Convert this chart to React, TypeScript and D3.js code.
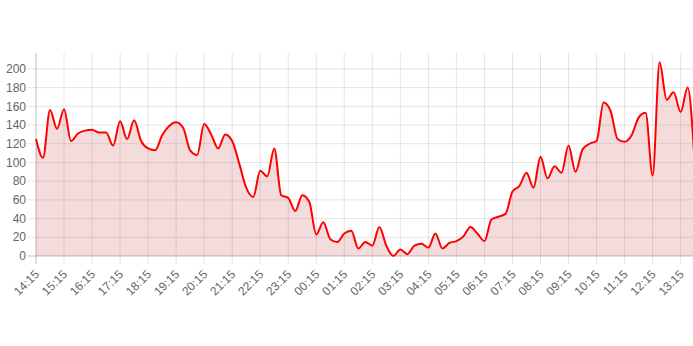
import React from "react";
import * as d3 from "d3";

const startHour = 14;
const startMinute = 15;
const stepMinutes = 15;

const values: number[] = [
  125, 105, 156, 136, 157, 123, 131, 134, 135, 132, 132, 118, 144, 125, 145, 123,
  115, 113, 129, 139, 143, 137, 113, 108, 141, 130, 115, 130, 123, 99, 73, 63,
  91, 85, 115, 65, 62, 48, 65, 58, 23, 36, 18, 15, 24, 27, 8, 15,
  11, 31, 11, 0, 7, 2, 11, 13, 9, 24, 8, 14, 16, 21, 31, 24,
  16, 39, 42, 45, 69, 75, 89, 73, 106, 83, 96, 89, 118, 90, 114, 120,
  123, 164, 155, 125, 122, 129, 148, 153, 86, 207, 167, 175, 154, 180, 100,
];

const yTicks: number[] = [0, 20, 40, 60, 80, 100, 120, 140, 160, 180, 200];

const labels: string[] = values.map((_, i) => {
  const total = startHour * 60 + startMinute + i * stepMinutes;
  const h = Math.floor(total / 60) % 24;
  const m = total % 60;
  return `${String(h).padStart(2, "0")}:${String(m).padStart(2, "0")}`;
});

const W = 693;
const H = 346;
const left = 36;
const bottom = 256;
const top = 53;
const step = 7.007;

export default function App() {
  const x = d3
    .scaleLinear()
    .domain([0, values.length - 1])
    .range([left, left + step * (values.length - 1)]);
  const y = d3.scaleLinear().domain([0, 217]).range([bottom, top]);

  const line = d3
    .line<number>()
    .x((_, i) => x(i))
    .y((d) => y(d))
    .curve(d3.curveMonotoneX);
  const area = d3
    .area<number>()
    .x((_, i) => x(i))
    .y0(y(0))
    .y1((d) => y(d))
    .curve(d3.curveMonotoneX);

  const hourIdx = values.map((_, i) => i).filter((i) => i % 4 === 0);
  const font = "Liberation Sans, Arial, Helvetica, sans-serif";

  return (
    <svg
      width={W}
      height={H}
      style={{ position: "absolute", left: 0, top: 0, background: "#fff" }}
    >
      <rect width={W} height={H} fill="#fff" />
      {yTicks.map((t) => (
        <g key={"y" + t}>
          <line
            x1={left - 8}
            x2={W}
            y1={y(t)}
            y2={y(t)}
            stroke={t === 0 ? "rgba(0,0,0,0.25)" : "rgba(0,0,0,0.1)"}
            strokeWidth={1}
          />
          <text
            x={left - 10}
            y={y(t)}
            dy="0.35em"
            textAnchor="end"
            fontFamily={font}
            fontSize={12}
            fill="#666"
          >
            {t}
          </text>
        </g>
      ))}
      {hourIdx.map((i) => (
        <g key={"x" + i}>
          <line
            x1={x(i)}
            x2={x(i)}
            y1={top}
            y2={bottom + 8}
            stroke={i === 0 ? "rgba(0,0,0,0.25)" : "rgba(0,0,0,0.1)"}
            strokeWidth={1}
          />
          <text
            transform={`translate(${x(i) + 1},${bottom + 16}) rotate(-45)`}
            textAnchor="end"
            dy="0.35em"
            fontFamily={font}
            fontSize={12}
            fill="#666"
          >
            {labels[i]}
          </text>
        </g>
      ))}
      <path d={area(values) || ""} fill="rgba(190,20,20,0.15)" />
      <path d={line(values) || ""} fill="none" stroke="#ff0000" strokeWidth={2} />
    </svg>
  );
}
